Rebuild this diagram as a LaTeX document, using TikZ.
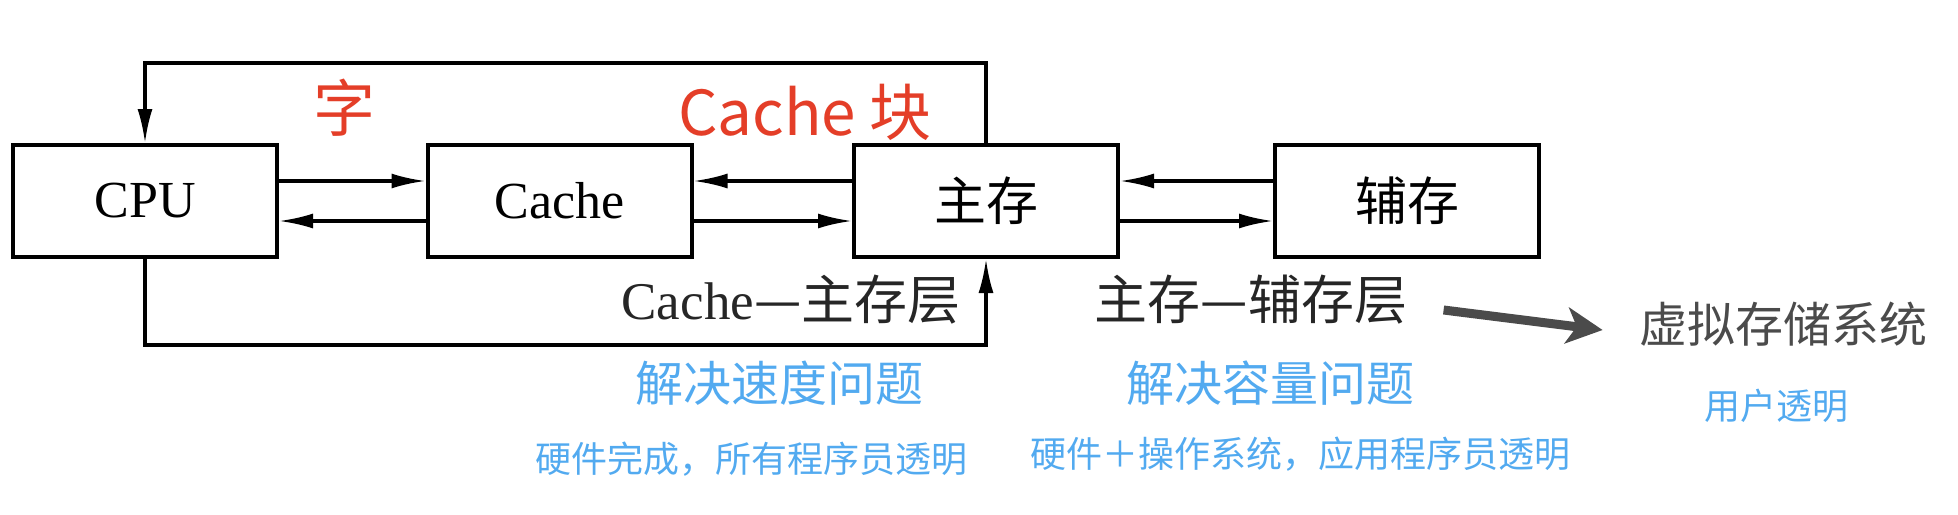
\documentclass[tikz,border=0pt]{standalone}
\usepackage{fontspec}
\setmainfont{Liberation Serif}
\newfontfamily\cjk{Noto Sans CJK SC}
\usetikzlibrary{arrows.meta}
\definecolor{myred}{RGB}{228,62,40}
\definecolor{myblue}{RGB}{82,170,240}
\definecolor{mygray}{RGB}{75,75,75}
\begin{document}
\begin{tikzpicture}[x=0.5pt,y=-0.5pt,
  box/.style={draw=black,line width=2pt,minimum width=132pt,minimum height=56pt,inner sep=0pt,font=\fontsize{26}{30}\selectfont},
  conn/.style={line width=1.6pt,-{Latex[length=17pt,width=7.5pt]}},
  redlbl/.style={inner sep=0pt,text=myred,font=\cjk\fontsize{31}{36}\selectfont},
  lvl/.style={inner sep=0pt,text=black!85,font=\fontsize{26.5}{30}\selectfont},
  bluebig/.style={inner sep=0pt,text=myblue,font=\cjk\fontsize{24}{28}\selectfont},
  bluesmall/.style={inner sep=0pt,text=myblue,font=\cjk\fontsize{18}{22}\selectfont},
  grayarr/.style={line width=4.5pt,draw=mygray,-{Stealth[length=18pt,width=18pt,inset=5pt]}}]
\useasboundingbox[fill=white] (0,0) rectangle (1958,514);
% boxes
\node[box] (cpu) at (145,201) {CPU};
\node[box] (cache) at (559.5,201) {Cache};
\node[box] (mem) at (986,201) {\cjk 主存};
\node[box] (aux) at (1407,201) {\cjk 辅存};
% horizontal arrows
\draw[conn] ([yshift=10pt]cpu.east) -- ([yshift=10pt]cache.west);
\draw[conn] ([yshift=-10pt]cache.west) -- ([yshift=-10pt]cpu.east);
\draw[conn] ([yshift=10pt]mem.west) -- ([yshift=10pt]cache.east);
\draw[conn] ([yshift=-10pt]cache.east) -- ([yshift=-10pt]mem.west);
\draw[conn] ([yshift=10pt]aux.west) -- ([yshift=10pt]mem.east);
\draw[conn] ([yshift=-10pt]mem.east) -- ([yshift=-10pt]aux.west);
% loops
\coordinate (top) at (566,63);
\coordinate (bot) at (566,345);
\draw[conn] (mem.north) |- (top) -| (cpu.north);
\draw[conn] (cpu.south) |- (bot) -| (mem.south);
% labels
\node[redlbl] (zi) at (344,108) {字};
\node[redlbl] (cb) at (805,112) {Cache 块};
\node[lvl] (l1) at (791,300) {Cache{\cjk —主存层}};
\node[lvl] (l2) at (1251,300) {\cjk 主存—辅存层};
\node[inner sep=0pt,text=mygray,font=\cjk\fontsize{24}{28}\selectfont] (virt) at (1783,324) {虚拟存储系统};
\draw[grayarr] ([xshift=18pt,yshift=-5pt]l2.east) -- ([xshift=-18pt,yshift=-3pt]virt.west);
\node[bluebig] (speed) at (779,383) {解决速度问题};
\node[bluebig] (cap) at (1270,383) {解决容量问题};
\node[bluesmall] (hw1) at (751,459) {硬件完成，所有程序员透明};
\node[bluesmall] (hw2) at (1300,454) {硬件＋操作系统，应用程序员透明};
\node[bluesmall] (user) at (1776,406) {用户透明};
\end{tikzpicture}
\end{document}
